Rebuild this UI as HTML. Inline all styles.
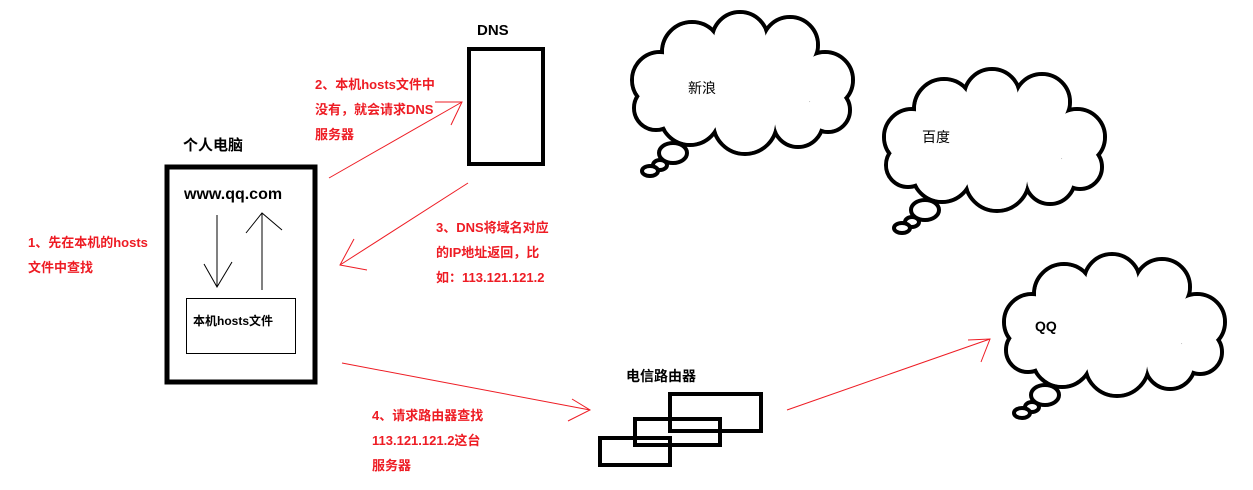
<!DOCTYPE html>
<html><head><meta charset="utf-8"><style>
html,body{margin:0;padding:0;background:#fff;}
body{width:1253px;height:490px;overflow:hidden;position:relative;}
svg{position:absolute;left:0;top:0;}
.t{position:absolute;font-family:"Liberation Sans","Noto Sans CJK SC",sans-serif;font-weight:bold;white-space:nowrap;}
.r{color:#ee1c24;font-size:13px;line-height:25px;}
.k{color:#000;}
</style></head><body>
<svg width="1253" height="490" viewBox="0 0 1253 490">
<defs>
<g id="cloud">
 <g fill="#fff" stroke="#000" stroke-width="4">
  <circle cx="660" cy="80" r="28"/><circle cx="692" cy="52" r="30"/><circle cx="740" cy="40" r="28"/>
  <circle cx="790" cy="45" r="28"/><circle cx="825" cy="80" r="28"/><circle cx="828" cy="110" r="22"/>
  <circle cx="798" cy="122" r="25"/><circle cx="745" cy="122" r="32"/><circle cx="690" cy="115" r="30"/>
  <circle cx="656" cy="108" r="22"/>
 </g>
 <g fill="#fff">
  <circle cx="660" cy="80" r="26"/><circle cx="692" cy="52" r="28"/><circle cx="740" cy="40" r="26"/>
  <circle cx="790" cy="45" r="26"/><circle cx="825" cy="80" r="26"/><circle cx="828" cy="110" r="20"/>
  <circle cx="798" cy="122" r="23"/><circle cx="745" cy="122" r="30"/><circle cx="690" cy="115" r="28"/>
  <circle cx="656" cy="108" r="20"/>
  <ellipse cx="740" cy="85" rx="75" ry="45"/>
 </g>
 <g fill="#fff" stroke="#000" stroke-width="4">
  <ellipse cx="673" cy="153" rx="14" ry="10"/><ellipse cx="660" cy="165" rx="7" ry="5"/><ellipse cx="650" cy="171" rx="8" ry="5"/>
 </g>
</g>
</defs>
<use href="#cloud"/>
<use href="#cloud" transform="translate(252,57)"/>
<use href="#cloud" transform="translate(372,242)"/>
<rect x="469" y="49" width="74" height="115" fill="none" stroke="#000" stroke-width="4"/>
<rect x="167" y="167" width="148" height="215" fill="none" stroke="#000" stroke-width="5"/>
<rect x="186.5" y="298.5" width="109" height="55" fill="none" stroke="#000" stroke-width="1"/>
<g stroke="#000" stroke-width="1" fill="none">
 <line x1="217" y1="215" x2="217" y2="287"/><polyline points="204,264 217,287 232,262"/>
 <line x1="262" y1="290" x2="262" y2="213"/><polyline points="246,233 262,213 282,230"/>
</g>
<g fill="none" stroke="#000" stroke-width="4">
 <rect x="670" y="394" width="91" height="37"/>
 <rect x="635" y="419" width="85" height="26"/>
 <rect x="600" y="438" width="70" height="27"/>
</g>
<g stroke="#ee1c24" stroke-width="1" fill="none">
 <line x1="329" y1="178" x2="462" y2="102"/><polyline points="435,102 462,102 451,125"/>
 <line x1="468" y1="183" x2="340" y2="265"/><polyline points="354,239 340,265 367,270"/>
 <line x1="342" y1="363" x2="590" y2="410"/><polyline points="572,399 590,410 568,421"/>
 <line x1="787" y1="410" x2="990" y2="339"/><polyline points="968,340 990,339 981,362"/>
</g>
</svg>
<div class="t k" style="left:477px;top:22px;font-size:15px;">DNS</div>
<div class="t k" style="left:183px;top:134px;font-size:15px;">个人电脑</div>
<div class="t k" style="left:184px;top:186px;font-size:16px;">www.qq.com</div>
<div class="t k" style="left:193px;top:312px;font-size:12px;">本机hosts文件</div>
<div class="t k" style="left:688px;top:78px;font-size:14px;font-weight:normal;">新浪</div>
<div class="t k" style="left:922px;top:127px;font-size:14px;font-weight:normal;">百度</div>
<div class="t k" style="left:1035px;top:318px;font-size:14px;">QQ</div>
<div class="t k" style="left:626px;top:366px;font-size:14px;">电信路由器</div>
<div class="t r" style="left:28px;top:230px;">1、先在本机的hosts<br>文件中查找</div>
<div class="t r" style="left:315px;top:72px;">2、本机hosts文件中<br>没有，就会请求DNS<br>服务器</div>
<div class="t r" style="left:436px;top:215px;">3、DNS将域名对应<br>的IP地址返回，比<br>如：113.121.121.2</div>
<div class="t r" style="left:372px;top:403px;">4、请求路由器查找<br>113.121.121.2这台<br>服务器</div>
</body></html>
